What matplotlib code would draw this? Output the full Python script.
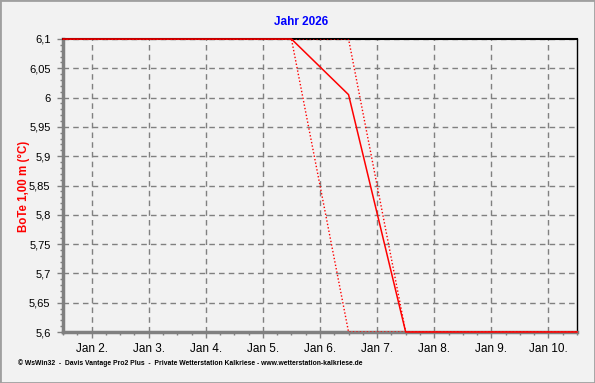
import matplotlib
matplotlib.use("Agg")
import matplotlib.pyplot as plt
from matplotlib.ticker import MultipleLocator, FixedLocator
import matplotlib.patches as mpatches

# Data (x = day of January, fractional)
main_x = [1.5, 5.5, 6.5, 7.5, 10.5]
main_y = [6.1, 6.1, 6.005, 5.6, 5.6]
max_x = [1.5, 6.5, 7.5, 10.5]
max_y = [6.1, 6.1, 5.6, 5.6]
min_x = [1.5, 5.5, 6.5, 10.5]
min_y = [6.1, 6.1, 5.6, 5.6]

tick_days = [2, 3, 4, 5, 6, 7, 8, 9, 10]
tick_labels = ["Jan 2.", "Jan 3.", "Jan 4.", "Jan 5.", "Jan 6.", "Jan 7.", "Jan 8.", "Jan 9.", "Jan 10."]
y_ticks = [5.6, 5.65, 5.7, 5.75, 5.8, 5.85, 5.9, 5.95, 6.0, 6.05, 6.1]
y_labels = ["5,6", "5,65", "5,7", "5,75", "5,8", "5,85", "5,9", "5,95", "6", "6,05", "6,1"]

plt.rcParams['font.family'] = ['Liberation Sans', 'DejaVu Sans']
bg = '#f2f2f2'
W, H = 595, 383
fig = plt.figure(figsize=(W/100, H/100), dpi=100, facecolor=bg)
ax = fig.add_axes([63/W, 1-332/H, (577-63)/W, (332-39)/H], facecolor=bg)

ax.plot(min_x, min_y, color='red', lw=1, linestyle=(0, (1, 1.5)), zorder=3)
ax.plot(max_x, max_y, color='red', lw=1, linestyle=(0, (1, 1.5)), zorder=3)
ax.plot(main_x, main_y, color='red', lw=1.1, zorder=4, clip_on=False)

ax.set_xlim(1.5, 10.5)
ax.set_ylim(5.6, 6.1)
ax.xaxis.set_major_locator(FixedLocator(tick_days))
ax.set_xticklabels(tick_labels)
ax.xaxis.set_minor_locator(MultipleLocator(0.25))
ax.yaxis.set_major_locator(FixedLocator(y_ticks))
ax.set_yticklabels(y_labels)
ax.yaxis.set_minor_locator(MultipleLocator(0.01))

ax.grid(True, which='major', color='#808080', linestyle=(0, (4, 3)), lw=1)
ax.tick_params(axis='both', which='major', labelsize=8, length=4, width=1, color='#808080', direction='out', pad=5)
ax.tick_params(axis='both', which='minor', length=2.5, width=1, color='#808080', direction='out')
ax.tick_params(axis='x', which='major', length=4, pad=4, labelsize=8.5)

for s in ['left', 'bottom']:
    ax.spines[s].set_color('#808080')
    ax.spines[s].set_linewidth(2.5)
ax.spines['top'].set_color('black')
ax.spines['top'].set_linewidth(1.5)
ax.spines['right'].set_color('black')
ax.spines['right'].set_linewidth(1)

fig.text(301/W, 1-22/H, "Jahr 2026", color='#0000ff', fontsize=8.5, fontweight='bold', ha='center', va='center')
fig.text(24/W, 1-186/H, "BoTe 1,00 m (°C)", color='#ff0000', fontsize=8.3, fontweight='bold',
         rotation=90, ha='center', va='center')
fig.text(18/W, 1-363/H, "© WsWin32  -  Davis Vantage Pro2 Plus  -  Private Wetterstation Kalkriese - www.wetterstation-kalkriese.de",
         fontsize=4.9, fontweight='bold', color='black', ha='left', va='center')

# outer border
fig.patches.append(mpatches.Rectangle((0, 0), 1, 1, transform=fig.transFigure, fill=False,
                                      edgecolor='#a0a0a0', lw=2))

fig.savefig('out.png', dpi=100, facecolor=bg)
